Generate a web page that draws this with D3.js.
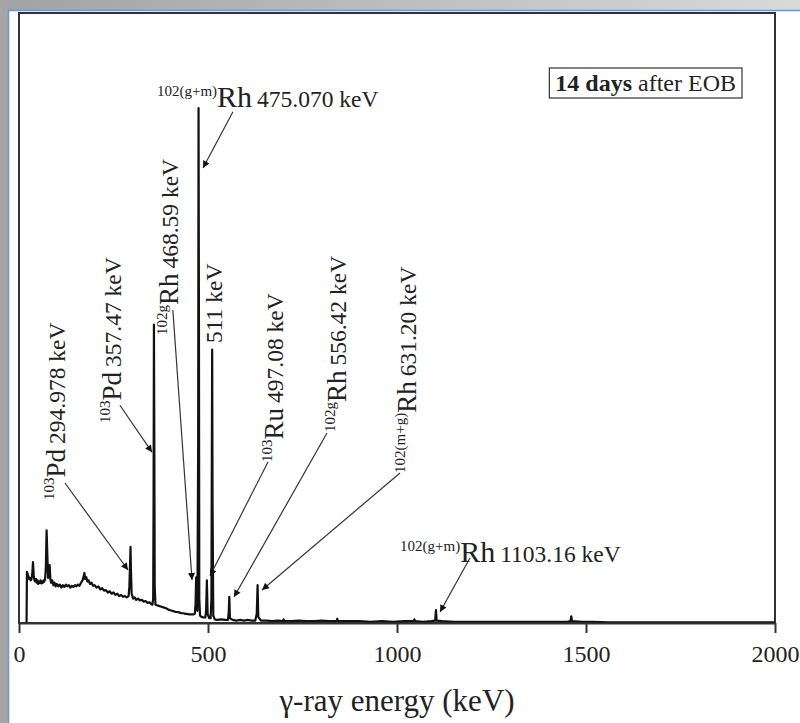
<!DOCTYPE html>
<head>
  <meta charset="utf-8">
  <title>gamma spectrum 14 days after EOB</title>
  <script src="https://cdn.jsdelivr.net/npm/d3@7"></script>
  <style>
    body { margin: 0; background: #fff; }
    text { font-family: "Liberation Serif", "Times New Roman", serif; fill: #222; }
  </style>
</head>
<body>
<svg id="chart" width="800" height="723"></svg>
<script>
// spectrum (keV, arbitrary counts)
var energyLow = [20,21,23,25,27,29,31,33,35,37,39,41,43,45,47,49,51,53,55,57,59,61,63,65,67,69,71,73,75,77,79,81,83,85]
var countsLow = [0,84,80,76,72,74,70,72,80,100,78,70,68,72,66,70,64,68,66,70,65,68,66,70,68,72,90,152,110,74,78,95,72,66]

var energyMid = [88,91,94,97,100,104,108,112,116,120,124,128,132,136,140,144,148,152,156,160,164,168,171,173,175,178,181,184,188,192,196,200,205,210,215,220,225,230,235,240,245,250,255,260,265,270,275,280,285,290]
var countsMid = [70,62,66,60,64,60,63,58,62,59,63,60,62,58,61,59,62,60,63,61,66,70,76,82,72,75,68,70,64,66,61,62,58,60,55,57,53,54,50,52,48,50,46,48,44,46,43,44,42,44]

var energyPd = [292,294,295,296,298,302,306,310,315,320,325,330,335,340,345,350,353,355,356,357,358,359,361]
var countsPd = [60,100,125,90,48,40,42,38,40,37,38,35,36,33,34,31,30,40,200,489,300,60,30]

var energyRh = [365,370,375,380,385,390,395,400,405,410,415,420,425,430,435,440,445,450,455,460,465,467,468.6,470,472,474,475,476,477,479,483,488,493,495,497,499,503,507,509,511,512,514,518]
var countsRh = [29,28,27,26,25,24,22,21,20,19,18,18,17,16,16,15,15,14,14,14,15,30,75,30,20,300,844,500,40,12,10,9,9,20,70,15,8,8,40,448,200,12,6]

var energyHigh = [525,535,545,553,555,556.4,558,565,575,585,595,605,615,625,629,631.2,633,640,655,670,685,698,700,702,720,740,760,780,800,820,840,842,844,870,900,930,960,990,1020,1044,1046,1048,1070,1090,1101,1103,1105,1120,1150,1180,1210,1240,1270,1300,1330,1360,1390,1420,1450,1459,1461,1463,1490,1520,1560,1600,1650,1700,1750,1800,1850,1900,1950,2000]
var countsHigh = [5,6,5,5,20,43,8,5,4,5,4,5,4,4,15,62,10,4,4,3,4,3,6,3,3,4,3,3,4,3,3,7,3,3,3,2,3,2,3,3,6,3,2,3,4,21,4,3,2,2,2,2,2,2,2,2,2,2,2,3,11,3,2,2,1,1,1,1,1,1,1,1,1,1]

var majorTicks = [0,500,1000,1500,2000]
var minorTicks = [250,750,1250,1750]

// peak labels
var labelIso = ["103","103","102g","102(g+m)","","103","102g","102(m+g)","102(g+m)"]
var labelEl = ["Pd","Pd","Rh","Rh","","Ru","Rh","Rh","Rh"]
var labelKeV = ["294.978 keV","357.47 keV","468.59 keV","475.070 keV","511 keV","497.08 keV","556.42 keV","631.20 keV","1103.16 keV"]
var labelUpright = [false,false,false,true,false,false,false,false,true]
var labelAt = [[121.7,201.6],[269.8,328],[420.6,472],[365,846],[537,459],[698.4,264],[865,313],[1050,246],[1008,100]]
var arrowFrom = [[121.7,229.5],[267,357],[407,513],[566,838],null,[658.7,264],[814.8,311.5],[1008,246],[1193,106.6]]
var arrowTo = [[288.4,86.9],[351.9,280],[457.7,70.5],[486.8,746],null,[505.3,77],[568.8,42.6],[642.9,54],[1113.8,18]]

var energy = energyLow.concat(energyMid, energyPd, energyRh, energyHigh)
var counts = countsLow.concat(countsMid, countsPd, countsRh, countsHigh)

var W = 800, H = 723
var m = {top: 13, right: 25, bottom: 100, left: 19}
var svg = d3.select('#chart')

// page frame
var defs = svg.append('defs')
var grad = defs.append('linearGradient').attr('id', 'band')
grad.append('stop').attr('offset', '0%').attr('stop-color', '#a2a2a2')
grad.append('stop').attr('offset', '100%').attr('stop-color', '#d9d9d9')
defs.append('marker').attr('id', 'ah')
  .attr('viewBox', '0 0 10 10').attr('refX', 10).attr('refY', 5)
  .attr('markerWidth', 13).attr('markerHeight', 7)
  .attr('markerUnits', 'userSpaceOnUse').attr('orient', 'auto')
  .append('path').attr('d', 'M0,0L10,5L0,10z').attr('fill', '#111')

svg.append('rect').attr('width', W).attr('height', H).attr('fill', '#fff')
svg.append('rect').attr('width', W).attr('height', 10).attr('fill', 'url(#band)')
svg.append('rect').attr('width', 8).attr('height', H).attr('fill', '#a5a5a5')
svg.append('line').attr('x1', 8).attr('x2', W).attr('y1', 10.5).attr('y2', 10.5)
  .attr('stroke', '#6d98d4').attr('stroke-width', 1.5)
svg.append('line').attr('x1', 8.5).attr('x2', 8.5).attr('y1', 10).attr('y2', H)
  .attr('stroke', '#6d98d4').attr('stroke-width', 1.5)

var x = d3.scaleLinear().domain([0, 2000]).range([m.left, W - m.right])
var y = d3.scaleLinear().domain([0, 1000]).range([H - m.bottom, m.top])

// plot box
svg.append('rect')
  .attr('x', m.left).attr('y', m.top)
  .attr('width', W - m.left - m.right).attr('height', H - m.top - m.bottom)
  .attr('fill', 'none').attr('stroke', '#333').attr('stroke-width', 2)

// spectrum
var line = d3.line().x(function (d) { return x(d) }).y(function (d, i) { return y(counts[i]) })
svg.append('path').datum(energy)
  .attr('d', line)
  .attr('fill', 'none').attr('stroke', '#111').attr('stroke-width', 2.2)
  .attr('stroke-linejoin', 'round')

// x axis
var gx = svg.append('g').attr('transform', 'translate(0,' + (H - m.bottom) + ')')
gx.call(d3.axisBottom(x).tickValues(minorTicks).tickSize(5).tickSizeOuter(0).tickFormat(''))
gx.call(d3.axisBottom(x).tickValues(majorTicks).tickSize(10).tickSizeOuter(0).tickPadding(12).tickFormat(d3.format('d')))
gx.selectAll('.domain').attr('stroke', '#333').attr('stroke-width', 2)
gx.selectAll('.tick line').attr('stroke', '#333').attr('stroke-width', 2)
gx.selectAll('.tick text')
  .style('font-family', '"Liberation Serif", "Times New Roman", serif')
  .attr('font-size', 24).attr('fill', '#222')

svg.append('text')
  .attr('x', (m.left + W - m.right) / 2).attr('y', 711)
  .attr('text-anchor', 'middle').attr('font-size', 31)
  .text('γ-ray energy (keV)')

// arrows
labelKeV.forEach(function (t, i) {
  if (!arrowFrom[i]) return
  svg.append('line')
    .attr('x1', x(arrowFrom[i][0])).attr('y1', y(arrowFrom[i][1]))
    .attr('x2', x(arrowTo[i][0])).attr('y2', y(arrowTo[i][1]))
    .attr('stroke', '#333').attr('stroke-width', 1.2)
    .attr('marker-end', 'url(#ah)')
})

// labels
labelKeV.forEach(function (t, i) {
  var px = x(labelAt[i][0]), py = y(labelAt[i][1])
  var g = svg.append('g')
    .attr('transform', 'translate(' + px + ',' + py + ')' + (labelUpright[i] ? '' : ' rotate(-90)'))
  var txt = g.append('text')
  var big = labelUpright[i] ? 30 : 27
  if (labelIso[i]) {
    txt.append('tspan').attr('font-size', 15).attr('dy', -11).text(labelIso[i])
    txt.append('tspan').attr('font-size', big).attr('dy', 11).text(labelEl[i])
    txt.append('tspan').attr('font-size', 23.5).attr('dx', 5).text(t)
  } else {
    txt.append('tspan').attr('font-size', 23.5).text(t)
  }
})

// time stamp box
var note = svg.append('g').attr('transform', 'translate(' + (W - m.right - 39) + ',' + 91 + ')')
var nt = note.append('text').attr('text-anchor', 'end').attr('font-size', 24)
nt.append('tspan').attr('font-weight', 'bold').text('14 days')
nt.append('tspan').text(' after EOB')
var bb = nt.node().getBBox()
note.insert('rect', 'text')
  .attr('x', bb.x - 6).attr('y', bb.y - 2)
  .attr('width', bb.width + 12).attr('height', bb.height + 4)
  .attr('fill', 'none').attr('stroke', '#333').attr('stroke-width', 1.2)
</script>
</body>
